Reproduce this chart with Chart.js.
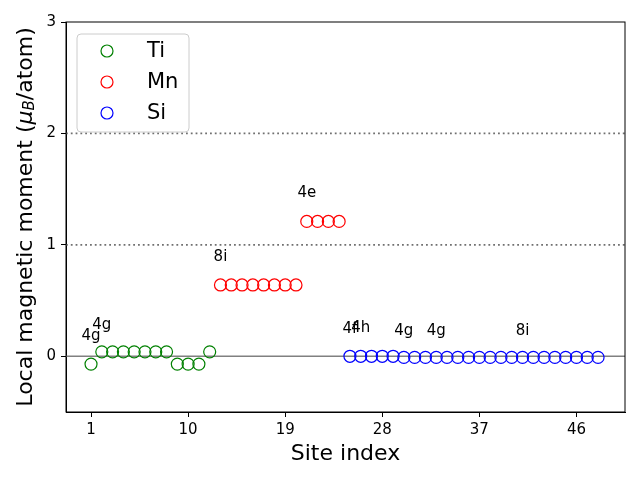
<!DOCTYPE html>
<html lang="en">
<head>
<meta charset="UTF-8">
<title>Local magnetic moment</title>
<script src="https://cdn.jsdelivr.net/npm/chart.js@4.4.0/dist/chart.umd.min.js"></script>
<style>
  body { margin: 0; background: #fff; }
  #wrap { width: 640px; height: 480px; }
</style>
</head>
<body>
<div id="wrap"><canvas id="myChart" width="640" height="480"></canvas></div>
<script>
// site index / moment per species
var tiX = [1, 2, 3, 4, 5, 6, 7, 8, 9, 10, 11, 12];
var tiY = [-0.07, 0.04, 0.04, 0.04, 0.04, 0.04, 0.04, 0.04, -0.07, -0.07, -0.07, 0.04];
var mnX = [13, 14, 15, 16, 17, 18, 19, 20, 21, 22, 23, 24];
var mnY = [0.64, 0.64, 0.64, 0.64, 0.64, 0.64, 0.64, 0.64, 1.21, 1.21, 1.21, 1.21];
var siX = [25, 26, 27, 28, 29, 30, 31, 32, 33, 34, 35, 36, 37, 38, 39, 40, 41, 42, 43, 44, 45, 46, 47, 48];
var siY = [0.0, 0.0, 0.0, 0.0, 0.0, -0.01, -0.01, -0.01, -0.01, -0.01, -0.01, -0.01,
           -0.01, -0.01, -0.01, -0.01, -0.01, -0.01, -0.01, -0.01, -0.01, -0.01, -0.01, -0.01];

// Wyckoff labels
var lblText = ['4g', '4g', '8i', '4e', '4f', '4h', '4g', '4g', '8i'];
var lblX = [1, 2, 13, 21, 25, 26, 30, 33, 41];
var lblY = [0.18, 0.28, 0.89, 1.46, 0.24, 0.25, 0.23, 0.23, 0.23];

var xTicks = [1, 10, 19, 28, 37, 46];
var yTicks = [0, 1, 2, 3];
var solidLines = [0];
var dottedLines = [1, 2];

function pts(xs, ys) {
    var out = [];
    for (var i = 0; i < xs.length; i++) out.push({x: xs[i], y: ys[i]});
    return out;
}

var series = [
    {label: 'Ti', color: 'green', data: pts(tiX, tiY)},
    {label: 'Mn', color: 'red', data: pts(mnX, mnY)},
    {label: 'Si', color: 'blue', data: pts(siX, siY)}
];

var FONT = "'DejaVu Sans', sans-serif";

var extras = {
    id: 'extras',
    beforeDatasetsDraw: function (chart) {
        var ctx = chart.ctx, a = chart.chartArea, ys = chart.scales.y;
        ctx.save();
        ctx.strokeStyle = '#808080';
        ctx.lineWidth = 1.5;
        solidLines.forEach(function (v) {
            var p = ys.getPixelForValue(v);
            ctx.beginPath(); ctx.moveTo(a.left, p); ctx.lineTo(a.right, p); ctx.stroke();
        });
        ctx.strokeStyle = '#707070';
        ctx.lineWidth = 1.8;
        ctx.setLineDash([1.8, 3]);
        dottedLines.forEach(function (v) {
            var p = ys.getPixelForValue(v);
            ctx.beginPath(); ctx.moveTo(a.left, p); ctx.lineTo(a.right, p); ctx.stroke();
        });
        ctx.restore();
    },
    afterDraw: function (chart) {
        var ctx = chart.ctx, a = chart.chartArea;
        var xs = chart.scales.x, ys = chart.scales.y;
        ctx.save();
        // frame
        ctx.strokeStyle = '#000';
        ctx.lineWidth = 1;
        ctx.strokeRect(a.left, a.top, a.right - a.left, a.bottom - a.top);

        // site labels
        ctx.fillStyle = '#000';
        ctx.font = '15px ' + FONT;
        ctx.textAlign = 'center';
        ctx.textBaseline = 'middle';
        for (var i = 0; i < lblText.length; i++) {
            ctx.fillText(lblText[i], xs.getPixelForValue(lblX[i]), ys.getPixelForValue(lblY[i]));
        }

        // legend
        var lx = a.left + 11, ly = a.top + 12, lw = 112, lh = 98;
        ctx.beginPath();
        ctx.roundRect(lx, ly, lw, lh, 4);
        ctx.fillStyle = 'rgba(255,255,255,0.8)';
        ctx.fill();
        ctx.strokeStyle = '#cccccc';
        ctx.stroke();
        ctx.font = '21px ' + FONT;
        ctx.textAlign = 'left';
        series.forEach(function (s, k) {
            var cy = ly + 17 + k * 31;
            ctx.beginPath();
            ctx.arc(lx + 30, cy, 6, 0, Math.PI * 2);
            ctx.strokeStyle = s.color;
            ctx.lineWidth = 1.2;
            ctx.stroke();
            ctx.fillStyle = '#000';
            ctx.fillText(s.label, lx + 70, cy + 1);
        });

        // y axis title with mu_B
        ctx.translate(26, (a.top + a.bottom) / 2);
        ctx.rotate(-Math.PI / 2);
        var parts = [
            {t: 'Local magnetic moment (', f: '22px ' + FONT, dy: 0},
            {t: 'μ', f: 'italic 22px ' + FONT, dy: 0},
            {t: 'B', f: 'italic 15px ' + FONT, dy: 4},
            {t: '/atom)', f: '22px ' + FONT, dy: 0}
        ];
        var total = 0;
        parts.forEach(function (p) { ctx.font = p.f; p.w = ctx.measureText(p.t).width; total += p.w; });
        var x0 = -total / 2;
        ctx.textAlign = 'left';
        ctx.textBaseline = 'middle';
        ctx.fillStyle = '#000';
        parts.forEach(function (p) {
            ctx.font = p.f;
            ctx.fillText(p.t, x0, p.dy);
            x0 += p.w;
        });
        ctx.restore();
    }
};

new Chart(document.getElementById('myChart'), {
    type: 'scatter',
    data: {
        datasets: series.map(function (s) {
            return {
                label: s.label,
                data: s.data,
                borderColor: s.color,
                backgroundColor: 'rgba(0,0,0,0)',
                pointRadius: 6,
                pointHoverRadius: 6,
                pointBorderWidth: 1.2
            };
        })
    },
    options: {
        responsive: false,
        animation: false,
        layout: {padding: {top: 22, right: 15, left: 0, bottom: 0}},
        plugins: {legend: {display: false}, tooltip: {enabled: false}},
        scales: {
            x: {
                type: 'linear',
                min: -1.32,
                max: 50.5,
                afterBuildTicks: function (scale) {
                    scale.ticks = xTicks.map(function (v) { return {value: v}; });
                },
                afterFit: function (scale) { scale.height = 68; },
                grid: {display: true, drawOnChartArea: false, drawTicks: true, tickLength: 5, color: '#000'},
                border: {display: true, color: '#000'},
                ticks: {color: '#000', font: {family: FONT, size: 15}, padding: 4, maxRotation: 0},
                title: {display: true, text: 'Site index', color: '#000',
                        font: {family: FONT, size: 22}, padding: {top: 4, bottom: 13}}
            },
            y: {
                min: -0.5,
                max: 3,
                afterBuildTicks: function (scale) {
                    scale.ticks = yTicks.map(function (v) { return {value: v}; });
                },
                afterFit: function (scale) { scale.width = 66; },
                grid: {display: true, drawOnChartArea: false, drawTicks: true, tickLength: 5, color: '#000'},
                border: {display: true, color: '#000'},
                ticks: {color: '#000', font: {family: FONT, size: 15}, padding: 5}
            }
        }
    },
    plugins: [extras]
});
</script>
</body>
</html>
